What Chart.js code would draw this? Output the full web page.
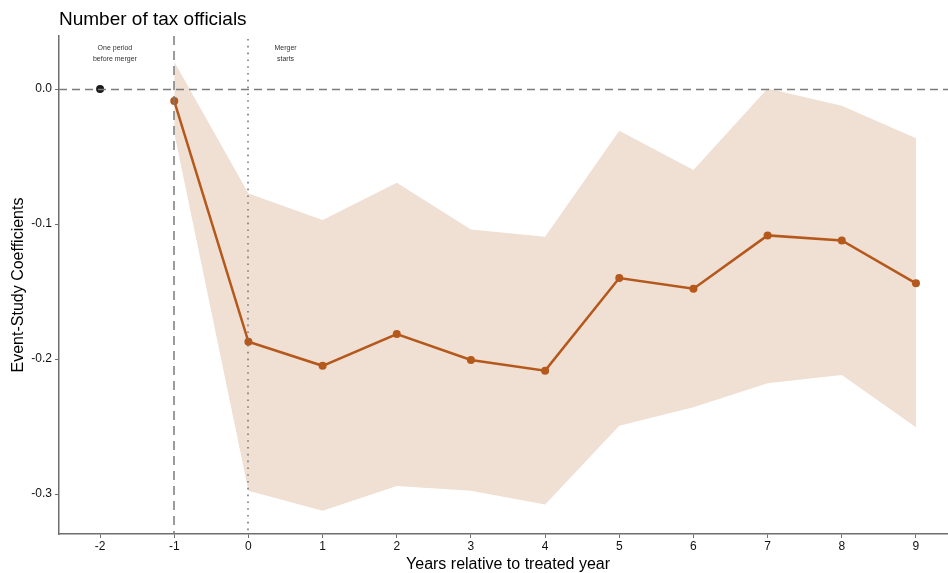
<!DOCTYPE html>
<html>
<head>
<meta charset="utf-8">
<script src="https://cdn.jsdelivr.net/npm/chart.js@4"></script>
<style>
  html, body { margin: 0; padding: 0; background: #fff; }
  #wrap { width: 948px; height: 573px; position: relative; }
</style>
</head>
<body>
<div id="wrap"><canvas id="c" width="948" height="573"></canvas></div>
<script>
// Event time (years relative to the treated year) for the estimated periods
const eventYears = [-1, 0, 1, 2, 3, 4, 5, 6, 7, 8, 9];
// Point estimates
const coefficients = [-0.0089, -0.1872, -0.2050, -0.1815, -0.2007, -0.2086, -0.1400, -0.1479, -0.1084, -0.1121, -0.1439];
// Confidence band
const upperCI = [0.0203, -0.0773, -0.0970, -0.0694, -0.1040, -0.1094, -0.0309, -0.0600, 0.0005, -0.0123, -0.0365];
const lowerCI = [-0.0326, -0.2975, -0.3123, -0.2941, -0.2975, -0.3077, -0.2494, -0.2358, -0.2180, -0.2119, -0.2506];
// Omitted reference period
const refYear = [-2];
const refCoef = [0];
// Axis ticks
const xTicks = [-2, -1, 0, 1, 2, 3, 4, 5, 6, 7, 8, 9];
const yTicks = [-0.3, -0.2, -0.1, 0.0];
// Text notes
const notes = [
  { x: -1.8, y: 0.0263, lines: ['One period', 'before merger'] },
  { x: 0.5, y: 0.0263, lines: ['Merger', 'starts'] }
];

const FONT = '"Liberation Sans", Arial, Helvetica, sans-serif';
const LINE = 'rgb(181,88,28)';
const BAND = 'rgb(240,223,211)';
const REF = '#7b7b7b';
const AXIS = '#6e6e6e';

const pts = (xs, ys) => xs.map((x, i) => ({ x: x, y: ys[i] }));

const overlay = {
  id: 'overlay',
  afterDatasetsDraw(chart) {
    const { ctx, chartArea: a, scales: { x, y } } = chart;
    ctx.save();
    ctx.beginPath();
    ctx.rect(a.left, a.top, a.right - a.left, a.bottom - a.top);
    ctx.clip();
    ctx.strokeStyle = REF;
    // zero line
    ctx.lineWidth = 1.5;
    ctx.setLineDash([8, 5]);
    const y0 = Math.round(y.getPixelForValue(0)) + 0.5;
    ctx.beginPath(); ctx.moveTo(a.left, y0); ctx.lineTo(a.right, y0); ctx.stroke();
    // one period before
    ctx.setLineDash([9, 6]);
    const xm1 = Math.round(x.getPixelForValue(-1));
    ctx.beginPath(); ctx.moveTo(xm1, a.top); ctx.lineTo(xm1, a.bottom); ctx.stroke();
    // merger start
    ctx.lineWidth = 1.6;
    ctx.setLineDash([1.6, 5.2]);
    const x0 = Math.round(x.getPixelForValue(0));
    ctx.beginPath(); ctx.moveTo(x0, a.top + 3); ctx.lineTo(x0, a.bottom); ctx.stroke();
    ctx.restore();

    // notes
    ctx.save();
    ctx.fillStyle = '#333';
    ctx.font = '7px ' + FONT;
    ctx.textAlign = 'center';
    ctx.textBaseline = 'middle';
    notes.forEach(n => {
      const px = x.getPixelForValue(n.x);
      const py = y.getPixelForValue(n.y);
      const lh = 11;
      n.lines.forEach((t, i) => {
        ctx.fillText(t, px, py + (i - (n.lines.length - 1) / 2) * lh);
      });
    });
    ctx.restore();

    // titles
    ctx.save();
    ctx.fillStyle = '#000';
    ctx.font = '19px ' + FONT;
    ctx.textAlign = 'left';
    ctx.textBaseline = 'alphabetic';
    ctx.fillText('Number of tax officials', a.left, 25);
    // x-axis title, centred on the full panel range (-2.55 .. 9.55)
    ctx.font = '16px ' + FONT;
    ctx.textAlign = 'center';
    ctx.fillText('Years relative to treated year', x.getPixelForValue(3.5), 569);
    ctx.restore();
  }
};

new Chart(document.getElementById('c'), {
  type: 'line',
  data: {
    datasets: [
      {
        data: pts(eventYears, upperCI),
        borderWidth: 0, pointRadius: 0, borderColor: 'transparent',
        backgroundColor: BAND, fill: '+1', order: 3
      },
      {
        data: pts(eventYears, lowerCI),
        borderWidth: 0, pointRadius: 0, borderColor: 'transparent',
        fill: false, order: 3
      },
      {
        data: pts(eventYears, coefficients),
        borderColor: LINE, backgroundColor: LINE, borderWidth: 2.5,
        pointRadius: 4, pointBorderWidth: 0, pointBackgroundColor: LINE,
        fill: false, order: 1
      },
      {
        data: pts(refYear, refCoef),
        showLine: false, pointRadius: 4, pointBorderWidth: 0,
        pointBackgroundColor: '#1a1a1a', backgroundColor: '#1a1a1a', order: 2
      }
    ]
  },
  options: {
    responsive: false,
    animation: false,
    layout: { autoPadding: false, padding: { top: 36, left: 0, right: 0, bottom: 0 } },
    plugins: { legend: { display: false }, tooltip: { enabled: false }, title: { display: false } },
    elements: { line: { tension: 0 } },
    scales: {
      x: {
        type: 'linear',
        min: -2.554, max: 9.432,
        afterBuildTicks: s => { s.ticks = xTicks.map(v => ({ value: v })); },
        afterFit: s => { s.height = 39; s.paddingLeft = 0; s.paddingRight = 0; },
        grid: { display: true, drawOnChartArea: false, drawTicks: true, tickLength: 4, color: AXIS, lineWidth: 1 },
        border: { display: true, color: AXIS, width: 1.5 },
        ticks: { color: '#111', font: { family: FONT, size: 12 }, padding: 1, maxRotation: 0, autoSkip: false,
                 callback: v => String(v) },
        title: { display: false }
      },
      y: {
        type: 'linear',
        min: -0.3296, max: 0.0393,
        afterBuildTicks: s => { s.ticks = yTicks.map(v => ({ value: v })); },
        afterFit: s => { s.width = 59; s.paddingTop = 0; s.paddingBottom = 0; },
        grid: { display: true, drawOnChartArea: false, drawTicks: true, tickLength: 4, color: AXIS, lineWidth: 1 },
        border: { display: true, color: AXIS, width: 1.5 },
        ticks: { color: '#111', font: { family: FONT, size: 12 }, padding: 3,
                 callback: v => v.toFixed(1) },
        title: { display: true, text: 'Event-Study Coefficients', color: '#000',
                 font: { family: FONT, size: 16 }, padding: { top: 9, bottom: 0 } }
      }
    }
  },
  plugins: [overlay]
});
</script>
</body>
</html>
